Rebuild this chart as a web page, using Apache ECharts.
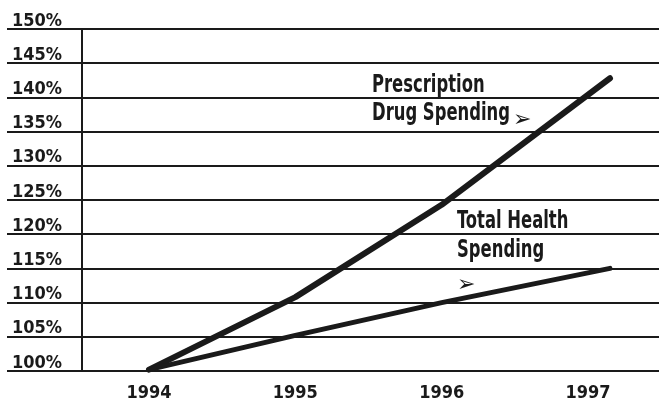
<!doctype html>
<html>
<head>
<meta charset="utf-8">
<script src="https://cdn.jsdelivr.net/npm/echarts@6/dist/echarts.min.js"></script>
<style>
  html, body { margin: 0; padding: 0; background: #fff; }
  #chart { width: 659px; height: 404px; }
</style>
</head>
<body>
<div id="chart"></div>
<script>
const FONT = '"DejaVu Sans Condensed", "Liberation Sans Narrow", sans-serif';
const INK = "#1a1a1a";

// years shown on the axis, and where each series point sits on that scale
const yearLabels = [1994, 1995, 1996, 1997];
const pointYears = [1994, 1995, 1996, 1997.15];
const drugSpending = [100.2, 110.8, 124.3, 142.8];
const totalSpending = [100.2, 105.2, 110, 115];
const pctMin = 100, pctMax = 150, pctStep = 5;

const toPairs = (xs, ys) => xs.map((x, i) => [x, ys[i]]);

// condensed heavy caption text, squeezed horizontally like the original type
const caption = (text, left, top) => ({
  type: "text", left, top, z: 10, scaleX: 0.76,
  style: { text, font: `bold 24px ${FONT}`, fill: INK },
});
const arrow = (left, top) => ({
  type: "text", left, top, z: 10,
  style: { text: "\u27A2", font: `22px "DejaVu Sans"`, fill: INK },
});

const chart = echarts.init(document.getElementById("chart"), null, { renderer: "canvas" });

chart.setOption({
  animation: false,
  backgroundColor: "#fff",
  grid: [
    { left: 82, right: 0, top: 29, bottom: 33 },
    { left: 7, right: 0, top: 29, bottom: 33 },
  ],
  xAxis: [
    {
      gridIndex: 0,
      type: "value",
      min: 1993.542,
      max: 1997.485,
      axisLine: { show: false },
      axisTick: { show: false },
      splitLine: { show: false },
      axisLabel: {
        customValues: yearLabels,
        formatter: (v) => String(v),
        margin: 13,
        fontFamily: FONT,
        fontWeight: "bold",
        fontSize: 18,
        color: INK,
      },
    },
    { gridIndex: 1, type: "value", min: 0, max: 1, show: false },
  ],
  yAxis: [
    {
      gridIndex: 0,
      type: "value",
      min: pctMin,
      max: pctMax,
      interval: pctStep,
      axisLine: { show: true, lineStyle: { color: INK, width: 2 } },
      axisTick: { show: false },
      axisLabel: { show: false },
      splitLine: { show: true, lineStyle: { color: INK, width: 2 } },
    },
    {
      gridIndex: 1,
      type: "value",
      min: pctMin,
      max: pctMax,
      interval: pctStep,
      axisLine: { show: false },
      axisTick: { show: false },
      splitLine: { show: true, lineStyle: { color: INK, width: 2 } },
      axisLabel: {
        inside: true,
        margin: 5,
        align: "left",
        verticalAlign: "bottom",
        lineHeight: 16,
        formatter: (v) => v + "%",
        fontFamily: FONT,
        fontWeight: "bold",
        fontSize: 18,
        color: INK,
      },
    },
  ],
  series: [
    {
      name: "Prescription Drug Spending",
      type: "line",
      xAxisIndex: 0,
      yAxisIndex: 0,
      data: toPairs(pointYears, drugSpending),
      showSymbol: false,
      lineStyle: { color: INK, width: 6, cap: "round", join: "round" },
      z: 5,
    },
    {
      name: "Total Health Spending",
      type: "line",
      xAxisIndex: 0,
      yAxisIndex: 0,
      data: toPairs(pointYears, totalSpending),
      showSymbol: false,
      lineStyle: { color: INK, width: 5, cap: "round", join: "round" },
      z: 5,
    },
  ],
  graphic: [
    caption("Prescription", 372, 74),
    caption("Drug Spending", 372, 102),
    arrow(513, 109),
    caption("Total Health", 457, 210),
    caption("Spending", 457, 239),
    arrow(457, 274),
  ],
});
</script>
</body>
</html>
